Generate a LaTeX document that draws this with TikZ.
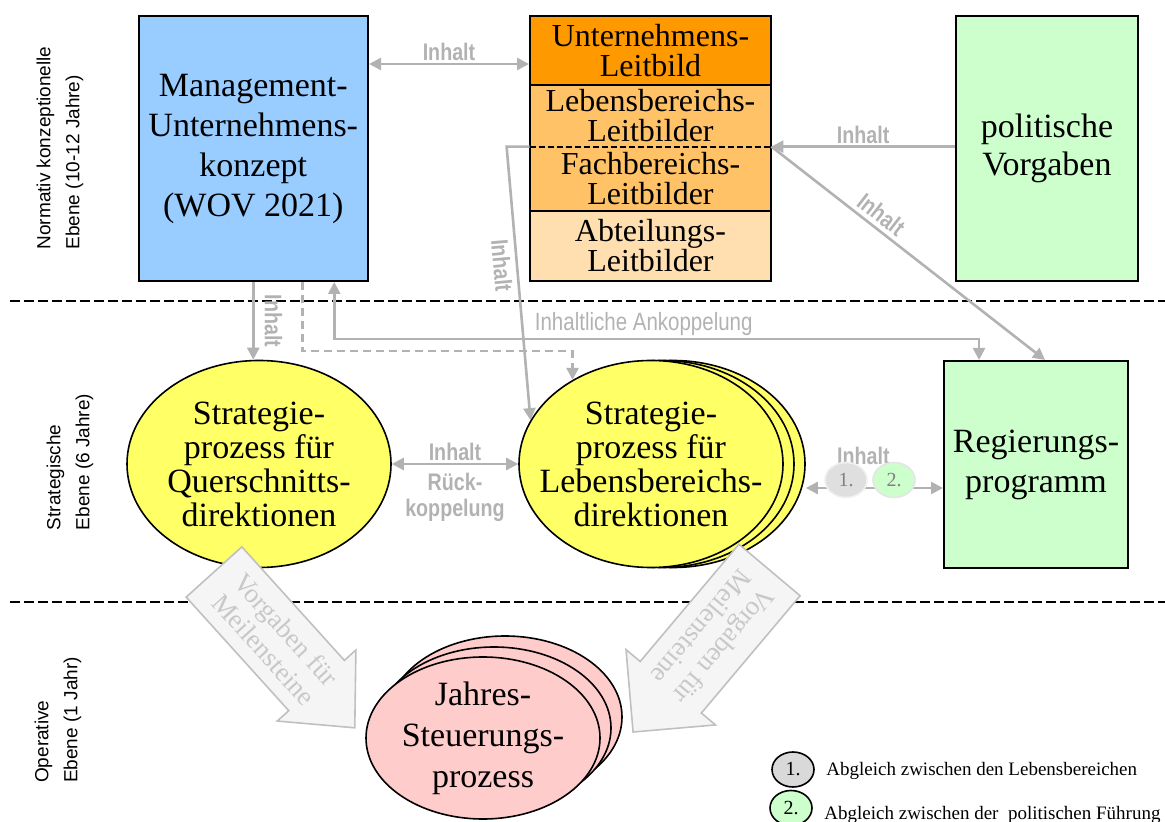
\documentclass[tikz,border=0pt]{standalone}
\usepackage{fontspec}
\setmainfont{Liberation Serif}
\setsansfont{Liberation Sans}
\newfontfamily\narrowsf[FakeStretch=0.82]{Liberation Sans}
\usepackage{tikz}
\usetikzlibrary{shapes.geometric,arrows.meta}

\definecolor{mgmtblue}{HTML}{99CCFF}
\definecolor{leitorange}{HTML}{FF9900}
\definecolor{leitmid}{HTML}{FFC266}
\definecolor{leitlight}{HTML}{FFDFAF}
\definecolor{politgreen}{HTML}{CCFFCC}
\definecolor{stratyellow}{HTML}{FFFF66}
\definecolor{jahrpink}{HTML}{FFCCCC}
\definecolor{flowgray}{HTML}{B2B2B2}
\definecolor{blockfill}{HTML}{F5F5F5}
\definecolor{blockedge}{HTML}{C0C0C0}
\definecolor{blocktextgray}{HTML}{C8C8C8}

\begin{document}
\begin{tikzpicture} [
  x=0.5pt, y=-0.5pt,
  >={Triangle[length=6pt,width=6pt]},
  box/.style={rectangle,draw,line width=1pt,inner sep=0pt,align=center,
    font=\fontsize{17}{20}\selectfont},
  leit/.style={rectangle,inner sep=0pt,align=center,minimum width=120.5pt,
    font=\fontsize{16}{15}\selectfont},
  proc/.style={ellipse,draw,line width=0.8pt,fill=stratyellow,inner xsep=-10pt,
    inner ysep=0pt,align=center,minimum width=132pt,minimum height=103.5pt,
    font=\fontsize{17}{17}\selectfont},
  jahr/.style={ellipse,draw,line width=0.8pt,fill=jahrpink,inner xsep=-6pt,
    inner ysep=-4pt,align=center,minimum width=117pt,minimum height=81pt,
    font=\fontsize{17}{20.5}\selectfont},
  level/.style={rotate=90,align=left,font=\sffamily\fontsize{9.5}{14.5}\selectfont},
  flow/.style={draw=flowgray,line width=1.3pt},
  inhalt/.style={text=flowgray,inner sep=1pt,align=center,
    font=\narrowsf\bfseries\fontsize{12}{13}\selectfont},
  ank/.style={text=flowgray,inner sep=1pt,font=\narrowsf\fontsize{12.5}{14}\selectfont},
  numo/.style={ellipse,inner sep=0pt,minimum width=21pt,minimum height=17.5pt,
    line width=0.8pt,font=\fontsize{10}{11}\selectfont},
  legtext/.style={anchor=west,inner sep=0pt,font=\fontsize{9.5}{11}\selectfont},
  blockarrow/.style={fill=blockfill,draw=blockedge,line width=0.8pt},
  blocktext/.style={text=blocktextgray,align=center,font=\fontsize{13.5}{15}\selectfont},
  sep/.style={dashed,dash pattern=on 5pt off 2pt,line width=1.2pt}]

\useasboundingbox (0,0) rectangle (1165,822);

\draw[sep] (10,301) -- (1165,301);
\draw[sep] (10,602) -- (1165,602);

\node[level] (normlvl) at (60,148) {Normativ konzeptionelle\\Ebene (10-12 Jahre)};
\node[level] (stratlvl) at (70,462) {Strategische\\Ebene (6 Jahre)};
\node[level] (oplvl) at (58,720) {Operative\\Ebene (1 Jahr)};

\node[box,fill=mgmtblue,minimum width=114.75pt,minimum height=132.5pt] (mgmt)
  at (253.25,148.5) {Management-\\Unternehmens-\\konzept\\(WOV 2021)};

\node[leit,fill=leitorange,draw,line width=1pt,minimum height=34.5pt] (leitu)
  at (650.5,50.5) {Unternehmens-\\Leitbild};
\node[leit,fill=leitmid,minimum height=31pt] (leitl)
  at (650.5,116) {Lebensbereichs-\\Leitbilder};
\node[leit,fill=leitmid,minimum height=32pt] (leitf)
  at (650.5,179) {Fachbereichs-\\Leitbilder};
\node[leit,fill=leitlight,draw,line width=1pt,minimum height=35pt] (leita)
  at (650.5,246) {Abteilungs-\\Leitbilder};
\draw[line width=1pt] (leitl.north west) rectangle (leitf.south east);
\draw[dashed,dash pattern=on 3pt off 1.5pt,line width=1pt] (leitf.north west) -- (leitf.north east);

\node[box,fill=politgreen,minimum width=91pt,minimum height=132.5pt,
  font=\fontsize{17}{19}\selectfont] (polit) at (1047,148.5) {politische\\Vorgaben};

\node[proc] (quer) at (259,464) {Strategie-\\prozess für\\Querschnitts-\\direktionen};
\node[proc] (lproz3) at (673,464) {};
\node[proc] (lproz2) at (662,464) {};
\node[proc] (lproz) at (651,464) {Strategie-\\prozess für\\Lebensbereichs-\\direktionen};

\node[box,fill=politgreen,minimum width=92pt,minimum height=103.5pt] (regier)
  at (1036,464.5) {Regierungs-\\programm};

\node[jahr] (jahr3) at (505,717) {};
\node[jahr] (jahr2) at (494,728) {};
\node[jahr] (jahr) at (483,738) {Jahres-\\Steuerungs-\\prozess};

\draw[flow,<->] ([yshift=-6.75pt]leitu.west -| mgmt.east) --
  node[inhalt,above] {Inhalt} ([yshift=-6.75pt]leitu.west);
\draw[flow,->] (polit.west |- leitf.north) --
  node[inhalt,above] {Inhalt} (leitf.north east);
\draw[flow,->] (leitf.north east) --
  node[inhalt,sloped,above=1pt,pos=0.37] {Inhalt} ([xshift=4.5pt]regier.north);
\draw[flow,->] (leitf.north west) -- ++(-11.5pt,0) --
  node[inhalt,sloped,below=1.5pt,pos=0.43] {Inhalt} (lproz.160);
\draw[flow,->] (mgmt.south) --
  node[inhalt,sloped,above=4pt,midway] {Inhalt} (mgmt.south |- quer.north);
\draw[flow,dashed,dash pattern=on 4pt off 2.5pt,->] ([xshift=24.5pt]mgmt.south)
  -- ++(0,-34.5pt) -| (lproz.133);
\draw[flow,<->] ([xshift=40.5pt]mgmt.south) -- ++(0,-28.5pt)
  -| node[ank,above,pos=0.24] {Inhaltliche Ankoppelung} ([xshift=-28.5pt]regier.north);
\draw[flow,<->] (quer.east) -- node[inhalt,above] {Inhalt}
  node[inhalt,below=3pt] {Rück-\\koppelung} (lproz.west);
\draw[flow,<->] ([yshift=-12pt]lproz3.east) --
  node[inhalt,above=10pt,pos=0.42] {Inhalt} ([yshift=-12pt]lproz3.east -| regier.west);

\node[numo,fill=gray!25,draw=gray!12,text=gray] (abg1) at (846,480) {1.};
\node[numo,fill=politgreen,draw=gray!20,text=gray] (abg2) at (894,480) {2.};

\begin{scope}[shift={(214,572)},rotate=-47.9]
  \draw[blockarrow] (0,-37.5) -- (153,-37.5) -- (153,-53) -- (210,0)
    -- (153,53) -- (153,37.5) -- (0,37.5) -- cycle;
  \node[blocktext,rotate=-47.9] (vorgq) at (91,0) {Vorgaben für\\Meilensteine};
\end{scope}
\begin{scope}[shift={(769.5,570)},rotate=-130.1]
  \draw[blockarrow] (0,-40) -- (153.3,-40) -- (153.3,-58.5) -- (211.8,0)
    -- (153.3,58.5) -- (153.3,40) -- (0,40) -- cycle;
  \node[blocktext,rotate=-130.1] (vorgl) at (87.5,0) {Vorgaben für\\Meilensteine};
\end{scope}

\node[numo,fill=gray!30,draw] (leg1) at (793,769.5) {1.};
\node[legtext] (leg1txt) at (826,771) {Abgleich zwischen den Lebensbereichen};
\node[numo,fill=politgreen,draw] (leg2) at (791,808) {2.};
\node[legtext] (leg2txt) at (824,815) {Abgleich zwischen der~ politischen Führung};
\end{tikzpicture}
\end{document}
